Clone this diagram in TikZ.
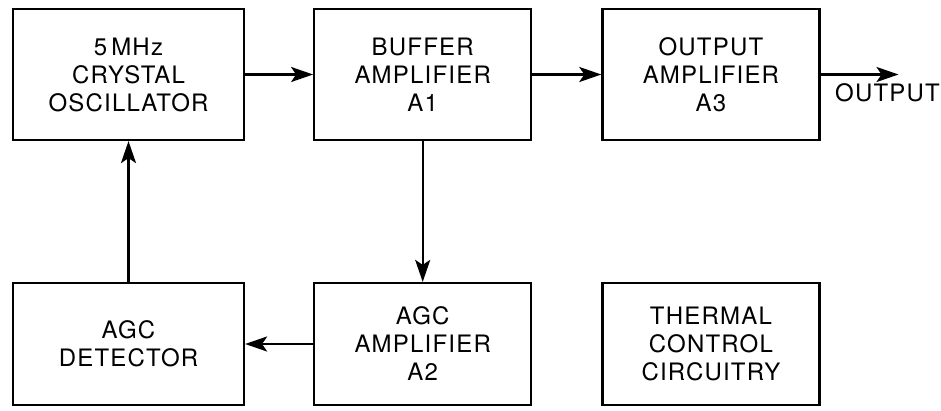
\documentclass[tikz,border=0pt]{standalone}
\usepackage{fontspec}
\setmainfont{TeX Gyre Heros}[LetterSpace=5]
\usetikzlibrary{arrows.meta, positioning}

\begin{document}
\begin{tikzpicture}[x=1pt, y=1pt,
      blk/.style={draw, line width=2.2pt, minimum width=217pt,
                  minimum height=131pt, align=center, inner sep=0pt,
                  font=\fontsize{24}{28}\selectfont},
      lbl/.style={inner sep=0pt, font=\fontsize{24}{28}\selectfont},
      arr/.style={-{Stealth[length=22pt, width=15pt, inset=5pt]}, line width=2.4pt}
    ]
      \useasboundingbox (0,0) rectangle (941,-410);
      \node[blk, minimum width=231pt] (osc) at (128.5,-74.5) {5\,MHz\\CRYSTAL\\OSCILLATOR};
      \node[blk, right=68pt of osc] (buf) {BUFFER\\AMPLIFIER\\A1};
      \node[blk, right=69pt of buf] (outamp) {OUTPUT\\AMPLIFIER\\A3};
      \node[blk, minimum width=231pt, minimum height=122pt] (det) at (128.5,-344) {AGC\\DETECTOR};
      \node[blk, minimum height=122pt] (agcamp) at (buf |- det) {AGC\\AMPLIFIER\\A2};
      \node[blk, minimum height=122pt] (therm) at (outamp |- det) {THERMAL\\CONTROL\\CIRCUITRY};
      \coordinate[right=78pt of outamp] (out);
      \node[lbl, below=9pt of out, xshift=-11pt] (outlbl) {OUTPUT};
      \draw[arr] (osc) -- (buf);
      \draw[arr] (buf) -- (outamp);
      \draw[arr] (outamp) -- (out);
      \draw[arr] (buf) -- (agcamp);
      \draw[arr] (agcamp) -- (det);
      \draw[arr] (det) -- (osc);
    \end{tikzpicture}
\end{document}
